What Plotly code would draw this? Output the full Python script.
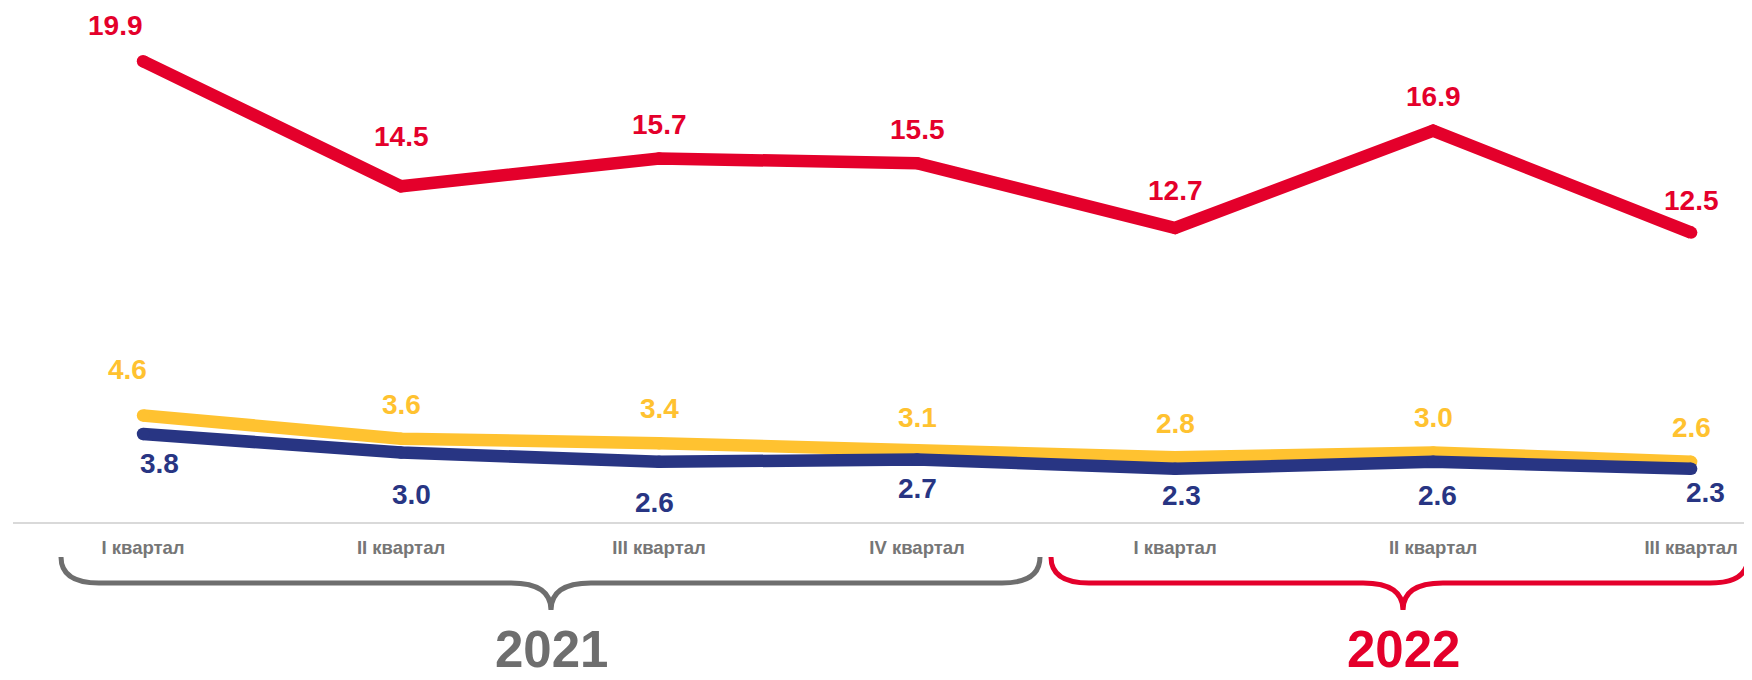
import plotly.graph_objects as go

# ---------------- data ----------------
quarters = ["I квартал", "II квартал", "III квартал", "IV квартал",
            "I квартал", "II квартал", "III квартал"]
red_vals = [19.9, 14.5, 15.7, 15.5, 12.7, 16.9, 12.5]
yellow_vals = [4.6, 3.6, 3.4, 3.1, 2.8, 3.0, 2.6]
blue_vals = [3.8, 3.0, 2.6, 2.7, 2.3, 2.6, 2.3]
years = ["2021", "2022"]

# ---------------- styling ----------------
# the page body adds an 8px offset, so the figure is 8px smaller each way
W, H = 1744, 672
L, R, T, B = 5, 0, 0, 158
RED = "#E4002B"
YELLOW = "#FFC230"
NAVY = "#283583"
GRAY_TXT = "#767676"
GRAY_BRACE = "#6E6E6E"
FONT = "Liberation Sans, Arial, sans-serif"

# label offsets (pixels) per point
red_dx = [-28, 0, 0, 0, 0, 0, 0]
red_dy = [36, 50, 34, 34, 37, 34, 32]
yel_dx = [-16, 0, 0, 0, 0, 0, 0]
yel_dy = [46, 34, 35, 33, 34, 35, 34]
blu_dx = [16, 10, -5, 0, 6, 4, 14]
blu_dy = [-29, -42, -41, -29, -27, -34, -24]

x = list(range(len(quarters)))

fig = go.Figure()
for vals, col in [(red_vals, RED), (yellow_vals, YELLOW), (blue_vals, NAVY)]:
    fig.add_trace(go.Scatter(
        x=x, y=vals, mode="lines+markers",
        line=dict(color=col, width=12.5),
        marker=dict(color=col, size=12.5, line=dict(width=0)),
        hoverinfo="skip", showlegend=False,
    ))

annotations = []
for vals, col, dxs, dys in [(red_vals, RED, red_dx, red_dy),
                            (yellow_vals, YELLOW, yel_dx, yel_dy),
                            (blue_vals, NAVY, blu_dx, blu_dy)]:
    for i, v in enumerate(vals):
        annotations.append(dict(
            x=i, y=v, xref="x", yref="y", text=f"{v:.1f}", showarrow=False,
            xshift=dxs[i], yshift=dys[i], xanchor="center", yanchor="middle",
            font=dict(family=FONT, size=28, color=col, weight="bold"),
        ))

plot_w = W - L - R
plot_h = H - T - B


def X(px):
    return (px - L) / plot_w


def Y(py):
    return (H - B - py) / plot_h


def brace(x0, x1, xc, ytop, yh, ytip, r, rc):
    return (f"M {X(x0)},{Y(ytop)} Q {X(x0)},{Y(yh)} {X(x0 + r)},{Y(yh)} "
            f"L {X(xc - rc)},{Y(yh)} Q {X(xc)},{Y(yh)} {X(xc)},{Y(ytip)} "
            f"Q {X(xc)},{Y(yh)} {X(xc + rc)},{Y(yh)} "
            f"L {X(x1 - r)},{Y(yh)} Q {X(x1)},{Y(yh)} {X(x1)},{Y(ytop)}")


shapes = [
    dict(type="path", xref="paper", yref="paper",
         path=brace(53, 1032, 543, 549, 575, 602, 38, 40),
         line=dict(color=GRAY_BRACE, width=5)),
    dict(type="path", xref="paper", yref="paper",
         path=brace(1043, 1740, 1395, 549, 575, 602, 38, 40),
         line=dict(color=RED, width=5)),
]

for txt, cx, col in [(years[0], 543, GRAY_BRACE), (years[1], 1395, RED)]:
    annotations.append(dict(
        x=X(cx), y=Y(671), xref="paper", yref="paper", text=txt,
        showarrow=False, xanchor="center", yanchor="bottom", borderpad=0,
        font=dict(family=FONT, size=51, color=col, weight="bold"),
    ))

fig.update_layout(
    width=W, height=H,
    margin=dict(l=L, r=R, t=T, b=B, autoexpand=False),
    paper_bgcolor="white", plot_bgcolor="white",
    showlegend=False,
    xaxis=dict(
        range=[-0.504, 6.236], tickmode="array", tickvals=x, ticktext=quarters,
        showgrid=False, zeroline=False, showline=True, linecolor="#D9D9D9",
        linewidth=2, ticks="", fixedrange=True, ticklabelstandoff=8,
        tickfont=dict(family=FONT, size=18.5, color=GRAY_TXT, weight="bold"),
    ),
    yaxis=dict(range=[0, 22.2], visible=False, fixedrange=True),
    annotations=annotations,
    shapes=shapes,
)

fig.write_html("out.html")
